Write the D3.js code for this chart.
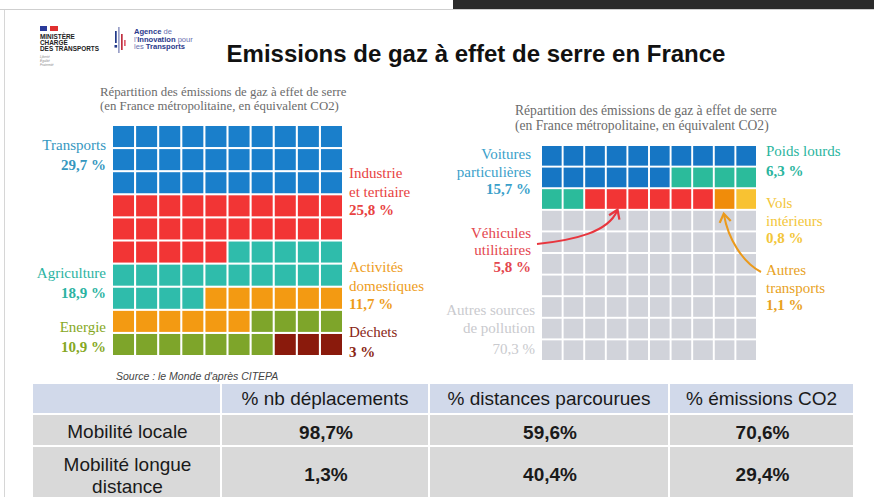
<!DOCTYPE html>
<meta charset="utf-8" />
<script src="https://d3js.org/d3.v7.min.js"></script>
<style>
  body { margin: 0; background: #fff; }
  svg { display: block; }
</style>
<svg id="chart" width="874" height="497"></svg>

<script>
  // ---- data ----
  var leftCats = ["Transports", "Industrie et tertiaire", "Agriculture", "Activités domestiques", "Energie", "Déchets"];
  var leftValues = ["29,7 %", "25,8 %", "18,9 %", "11,7 %", "10,9 %", "3 %"];
  var leftCells = [30, 25, 19, 12, 11, 3];
  var leftColors = ["#1a7fcb", "#f23535", "#2fbcab", "#f39a12", "#7ea52a", "#8a1a0c"];

  var rightCats = ["Voitures particulières", "Poids lourds", "Véhicules utilitaires", "Autres transports", "Vols intérieurs", "Autres sources de pollution"];
  var rightValues = ["15,7 %", "6,3 %", "5,8 %", "1,1 %", "0,8 %", "70,3 %"];
  var rightCells = [16, 6, 6, 1, 1, 70];
  var rightColors = ["#1676c4", "#2bbb9b", "#f23535", "#f08c0a", "#f8c232", "#d1d3da"];

  var tableHeaders = ["", "% nb déplacements", "% distances parcourues", "% émissions CO2"];
  var tableRows = ["Mobilité locale", "Mobilité longue distance"];
  var tableValues = [["98,7%", "59,6%", "70,6%"], ["1,3%", "40,4%", "29,4%"]];

  var svg = d3.select("#chart");
  var serif = "'Liberation Serif', 'DejaVu Serif', serif";
  var sans = "'Liberation Sans', Arial, sans-serif";

  // ---- slide frame ----
  svg.append("rect").attr("x", 453).attr("y", 0).attr("width", 421).attr("height", 9).attr("fill", "#2b2b2b");
  svg.append("line").attr("x1", 0).attr("x2", 874).attr("y1", 9.5).attr("y2", 9.5).attr("stroke", "#cfcfcf");
  svg.append("line").attr("x1", 4.5).attr("x2", 4.5).attr("y1", 10).attr("y2", 497).attr("stroke", "#d6d6d6");

  // ---- logos (rough) ----
  var logo = svg.append("g");
  logo.append("rect").attr("x", 40).attr("y", 26).attr("width", 7).attr("height", 5).attr("fill", "#2a3a9a");
  logo.append("rect").attr("x", 50).attr("y", 26).attr("width", 8).attr("height", 5).attr("fill", "#e03030");
  ["MINISTÈRE", "CHARGÉ", "DES TRANSPORTS"].forEach(function(t, i) {
    logo.append("text").attr("x", 40).attr("y", 39 + i * 5.8).text(t)
      .attr("font-family", sans).attr("font-weight", "bold").attr("font-size", 6.4).attr("fill", "#222");
  });
  ["Liberté", "Égalité", "Fraternité"].forEach(function(t, i) {
    logo.append("text").attr("x", 40).attr("y", 58 + i * 4).text(t)
      .attr("font-family", sans).attr("font-style", "italic").attr("font-size", 3.2).attr("fill", "#888");
  });
  [[115, 31, 12, "#223a8a"], [118, 27, 26, "#9aa0c8"], [121, 34, 16, "#c03040"], [124, 40, 6, "#e06070"]].forEach(function(b) {
    logo.append("rect").attr("x", b[0]).attr("y", b[1]).attr("width", 1.7).attr("height", b[2]).attr("fill", b[3]);
  });
  logo.append("rect").attr("x", 114.5).attr("y", 45).attr("width", 2.6).attr("height", 2.6).attr("fill", "#223a8a");
  var ag = logo.append("text").attr("x", 134).attr("y", 34).attr("font-family", sans).attr("font-size", 7.6).attr("fill", "#2c3a8c");
  ag.append("tspan").attr("font-weight", "bold").text("Agence");
  ag.append("tspan").attr("fill", "#6a70b0").text(" de");
  var ag2 = logo.append("text").attr("x", 134).attr("y", 41.5).attr("font-family", sans).attr("font-size", 7.6).attr("fill", "#6a70b0");
  ag2.append("tspan").text("l'");
  ag2.append("tspan").attr("font-weight", "bold").attr("fill", "#2c3a8c").text("Innovation");
  ag2.append("tspan").text(" pour");
  var ag3 = logo.append("text").attr("x", 134).attr("y", 49).attr("font-family", sans).attr("font-size", 7.6).attr("fill", "#6a70b0");
  ag3.append("tspan").text("les ");
  ag3.append("tspan").attr("font-weight", "bold").attr("fill", "#2c3a8c").text("Transports");

  // ---- title ----
  svg.append("text").attr("x", 476).attr("y", 62).attr("text-anchor", "middle")
    .attr("font-family", sans).attr("font-weight", "bold").attr("font-size", 24).attr("fill", "#111")
    .text("Emissions de gaz à effet de serre en France");

  // ---- waffle helper ----
  function waffle(g, cells, colors, x0, y0, size) {
    var items = [];
    cells.forEach(function(n, k) { for (var j = 0; j < n; j++) items.push(k); });
    var x = d3.scaleBand().domain(d3.range(10)).range([x0, x0 + size]).paddingInner(0.09);
    var y = d3.scaleBand().domain(d3.range(10)).range([y0, y0 + size]).paddingInner(0.09);
    g.selectAll("rect").data(items).enter().append("rect")
      .attr("x", function(d, i) { return x(i % 10); })
      .attr("y", function(d, i) { return y(Math.floor(i / 10)); })
      .attr("width", x.bandwidth())
      .attr("height", y.bandwidth())
      .attr("fill", function(d) { return colors[d]; });
    return y;
  }

  function subtitle(x, y, fs, lh) {
    ["Répartition des émissions de gaz à effet de serre", "(en France métropolitaine, en équivalent CO2)"].forEach(function(t, i) {
      svg.append("text").attr("x", x).attr("y", y + i * lh).text(t)
        .attr("font-family", serif).attr("font-size", fs).attr("fill", "#6b6b6b");
    });
  }

  function label(lines, x, y, anchor, color, lh) {
    var t = svg.append("text").attr("text-anchor", anchor).attr("font-family", serif)
      .attr("font-size", 15).attr("fill", color);
    lines.forEach(function(s, i) {
      t.append("tspan").attr("x", x).attr("y", y + i * lh)
        .attr("font-weight", i === lines.length - 1 ? "bold" : "normal").text(s);
    });
    return t;
  }

  // ---- left waffle ----
  subtitle(100, 96, 12.8, 13.5);
  var yL = waffle(svg.append("g"), leftCells, leftColors, 113, 126, 229);
  var leftPos = [
    [106, 150, "end", "#3597bf"],
    [349, 178, "start", "#e84242"],
    [106, 278, "end", "#2bb3a2"],
    [349, 272, "start", "#ee9d1c"],
    [106, 332, "end", "#86a824"],
    [349, 337, "start", "#8a2614"]
  ];
  leftCats.forEach(function(c, k) {
    var p = leftPos[k];
    var words = c === "Industrie et tertiaire" ? ["Industrie", "et tertiaire"]
      : c === "Activités domestiques" ? ["Activités", "domestiques"] : [c];
    label(words.concat([leftValues[k]]), p[0], p[1], p[2], p[3], words.length > 1 ? 18.5 : 20);
  });

  // ---- right waffle ----
  subtitle(515, 115, 13.6, 15);
  var yR = waffle(svg.append("g"), rightCells, rightColors, 542, 146, 214);
  var rightLines = [["Voitures", "particulières"], ["Poids lourds"], ["Véhicules", "utilitaires"],
                    ["Autres", "transports"], ["Vols", "intérieurs"], ["Autres sources", "de pollution"]];
  var rightPos = [
    [531, 159, "end", "#3a9fca", 17.5],
    [766, 156, "start", "#2ab59e", 20],
    [531, 238, "end", "#e4464e", 17],
    [766, 275, "start", "#e8a21e", 17.5],
    [766, 208, "start", "#f3c63a", 17.5],
    [535, 315, "end", "#c9cace", 17.5]
  ];
  rightCats.forEach(function(c, k) {
    var p = rightPos[k];
    var t = label(rightLines[k].concat([rightValues[k]]), p[0], p[1], p[2], p[3], p[4]);
    // the share of "Autres sources" sits lower and is not bold
    if (k === 5) t.select("tspan:last-child").attr("y", 354).attr("font-weight", "normal");
  });

  // arrows
  var defs = svg.append("defs");
  [["arRed", "#e8363e"], ["arOrange", "#eb9a1c"]].forEach(function(a) {
    defs.append("marker").attr("id", a[0]).attr("viewBox", "0 0 10 10").attr("refX", 6).attr("refY", 5)
      .attr("markerWidth", 7).attr("markerHeight", 7).attr("orient", "auto")
      .append("path").attr("d", "M1,1 L7,5 L1,9").attr("fill", "none").attr("stroke", a[1]).attr("stroke-width", 1.6);
  });
  svg.append("path").attr("d", "M537,244 C575,240 608,232 617,211")
    .attr("fill", "none").attr("stroke", "#e8363e").attr("stroke-width", 2).attr("marker-end", "url(#arRed)");
  svg.append("path").attr("d", "M761,272 C742,262 728,238 724,215")
    .attr("fill", "none").attr("stroke", "#eb9a1c").attr("stroke-width", 2).attr("marker-end", "url(#arOrange)");

  // source
  svg.append("text").attr("x", 116).attr("y", 380).attr("font-family", sans).attr("font-style", "italic")
    .attr("font-size", 10.5).attr("fill", "#444").text("Source : le Monde d'après CITEPA");

  // ---- table ----
  var colX = [33, 222, 430, 670, 855];
  var rowY = [384, 415, 447, 500];
  var table = svg.append("g");
  for (var r = 0; r < 3; r++) {
    for (var c = 0; c < 4; c++) {
      table.append("rect").attr("x", colX[c]).attr("y", rowY[r])
        .attr("width", colX[c + 1] - colX[c] - 2).attr("height", rowY[r + 1] - rowY[r] - 2)
        .attr("fill", r === 0 ? "#d1d9ea" : "#d9d9d9");
    }
  }
  tableHeaders.forEach(function(h, c) {
    table.append("text").attr("x", (colX[c] + colX[c + 1]) / 2 - 1).attr("y", 405).attr("text-anchor", "middle")
      .attr("font-family", sans).attr("font-size", 19).attr("fill", "#1a1a1a").text(h);
  });
  var rowLines = [["Mobilité locale"], ["Mobilité longue", "distance"]];
  rowLines.forEach(function(lines, r) {
    var t = table.append("text").attr("text-anchor", "middle").attr("font-family", sans)
      .attr("font-size", 19).attr("fill", "#1a1a1a");
    lines.forEach(function(s, i) {
      t.append("tspan").attr("x", (colX[0] + colX[1]) / 2).attr("y", (r === 0 ? 438 : 471) + i * 22).text(s);
    });
    tableValues[r].forEach(function(v, c) {
      table.append("text").attr("x", (colX[c + 1] + colX[c + 2]) / 2).attr("y", r === 0 ? 439 : 481)
        .attr("text-anchor", "middle").attr("font-family", sans).attr("font-weight", "bold")
        .attr("font-size", 19).attr("fill", "#1a1a1a").text(v);
    });
  });
</script>
